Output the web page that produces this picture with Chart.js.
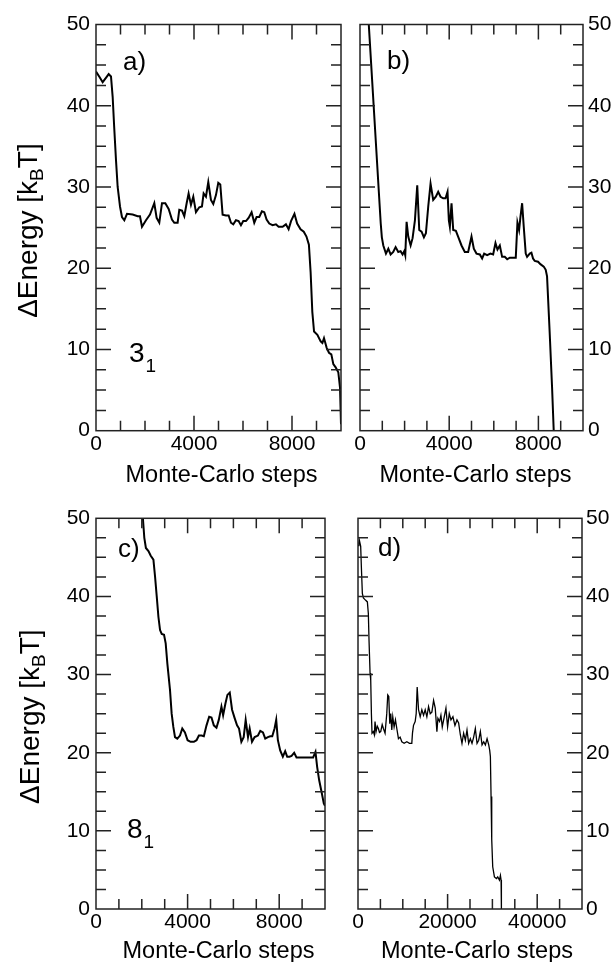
<!DOCTYPE html>
<html>
<head>
<meta charset="utf-8">
<title>ΔEnergy vs Monte-Carlo steps</title>
<script src="https://cdn.jsdelivr.net/npm/chart.js@4.4.1/dist/chart.umd.min.js"></script>
<style>
    html, body { margin: 0; padding: 0; background: #fff; }
    body { width: 614px; height: 962px; position: relative; overflow: hidden; }
    .panel { position: absolute; }
    #panelA { left: 0; top: 0; width: 350px; height: 495px; }
    #panelB { left: 350px; top: 0; width: 264px; height: 495px; }
    #panelC { left: 0; top: 495px; width: 350px; height: 467px; }
    #panelD { left: 350px; top: 495px; width: 264px; height: 467px; }
</style>
</head>
<body>
<div class="panel" id="panelA"><canvas id="chartA"></canvas></div>
<div class="panel" id="panelB"><canvas id="chartB"></canvas></div>
<div class="panel" id="panelC"><canvas id="chartC"></canvas></div>
<div class="panel" id="panelD"><canvas id="chartD"></canvas></div>
<script>
// tick labels
const stepTicksShort = [0, 4000, 8000];
const stepTicksLong = [0, 20000, 40000];
const energyTicks = [0, 10, 20, 30, 40, 50];

// a) 3_1 knot
const stepsA = [0, 150, 272, 420, 517, 612, 680, 740, 816, 884, 980, 1060, 1156, 1265, 1496, 1700, 1795, 1877,
    2040, 2203, 2380, 2475, 2584, 2693, 2829, 2965, 3100, 3196, 3332, 3400, 3509, 3604, 3700, 3780, 3876, 3971,
    4080, 4216, 4325, 4393, 4488, 4583, 4692, 4787, 4896, 4991, 5073, 5168, 5304, 5413, 5508, 5603, 5712, 5821,
    5916, 6011, 6120, 6229, 6351, 6460, 6555, 6664, 6773, 6868, 6963, 7072, 7208, 7344, 7453, 7616, 7752, 7861,
    7960, 8100, 8210, 8350, 8480, 8590, 8690, 8760, 8830, 8900, 9036, 9170, 9240, 9306, 9415, 9510, 9605, 9687,
    9782, 9890, 9960, 10000];
const energyA = [44.2, 43.5, 42.9, 43.5, 43.9, 43.6, 41.1, 37.5, 33.3, 30, 27.6, 26.3, 25.9, 26.7, 26.6, 26.4, 26.4, 25.1,
    25.9, 26.6, 28, 26.2, 25.6, 28, 28, 27.3, 26, 25.6, 25.6, 27.2, 27.1, 26.4, 28, 29.2, 27.8, 28.8,
    26.9, 27.5, 27.6, 29.2, 28.8, 30.6, 28.4, 27.9, 29, 30.5, 30.3, 26.6, 26.5, 26.5, 25.6, 25.4, 25.9, 25.8,
    25.3, 25.8, 25.8, 26.2, 26.9, 25.6, 26.3, 26.3, 27, 26.9, 26, 25.5, 25.3, 25.4, 25.1, 25.1, 25.4, 24.8,
    25.8, 26.7, 25.5, 24.8, 24.5, 23.9, 22.9, 19.5, 14.6, 12.2, 11.8, 11, 10.8, 11.4, 10.2, 9.6, 9.4, 8.2,
    7.8, 7.2, 5.3, 0.8];

// b)
const stepsB = [0, 930, 980, 1045, 1164, 1270, 1373, 1490, 1597, 1716, 1820, 1910, 1985, 2030, 2090, 2164, 2270,
    2358, 2463, 2567, 2657, 2761, 2866, 2955, 3060, 3164, 3283, 3400, 3507, 3612, 3731, 3836, 3925, 3985, 4030,
    4104, 4180, 4300, 4400, 4552, 4700, 4850, 5000, 5104, 5224, 5373, 5477, 5567, 5700, 5850, 5970, 6075, 6164,
    6270, 6373, 6492, 6600, 6716, 6866, 6985, 7060, 7134, 7194, 7270, 7343, 7432, 7493, 7612, 7687, 7760, 7836,
    7985, 8090, 8240, 8328, 8388, 8507, 8612, 8687];
const energyB = [68, 25.5, 23.8, 22.8, 21.8, 22.4, 21.7, 22, 22.6, 22, 22.1, 21.7, 22.1, 21.6, 25.7, 23.9, 22.8,
    23.7, 25.9, 30.2, 24.7, 24.5, 23.8, 24.3, 27.6, 30.4, 28.4, 28.8, 29.4, 28.8, 28.6, 28.6, 29.4, 25.9, 25.1,
    28, 24.7, 24.6, 23.9, 22.8, 22, 22, 23.9, 22.4, 21.8, 21.7, 21.2, 21.8, 21.6, 21.8, 21.7, 23.1, 22.3,
    22.8, 21.4, 21.4, 21.1, 21.3, 21.3, 21.3, 25.6, 24.7, 26.3, 28, 25.1, 21.8, 21.4, 21.8, 21.9, 21.2, 20.9,
    20.8, 20.5, 20.2, 19.8, 19, 12, 5.4, 0];

// c) 8_1 knot
const stepsC = [1950, 2048, 2110, 2179, 2290, 2390, 2507, 2580, 2652, 2725, 2797, 2870, 2971, 3043, 3116, 3232,
    3304, 3377, 3450, 3550, 3667, 3768, 3884, 4000, 4130, 4275, 4391, 4493, 4609, 4710, 4826, 4942, 5043, 5145,
    5261, 5362, 5478, 5551, 5652, 5739, 5841, 5942, 6058, 6159, 6246, 6348, 6449, 6536, 6638, 6710, 6812, 6928,
    7072, 7174, 7290, 7391, 7507, 7609, 7696, 7797, 7870, 7942, 8043, 8159, 8261, 8348, 8449, 8540, 8654, 8756,
    9046, 9264, 9482, 9584, 9657, 9744, 9848, 9948, 10000];
const energyC = [53, 50, 47.5, 46.2, 45.8, 45.2, 44.7, 42.5, 40, 37.4, 35.7, 35.2, 35.1, 34, 31.4, 28,
    25, 23.3, 22, 21.8, 22.2, 23.1, 22.6, 21.6, 21.4, 21.4, 21.6, 22.2, 22.2, 22.1, 23.5, 24.6, 24.5, 23.5,
    23.2, 24.2, 25.9, 24.8, 26.3, 27.4, 27.7, 25.5, 24.4, 23.5, 23.1, 21.4, 22, 24.2, 22, 23.1, 21.4, 22,
    22.2, 22.8, 22.6, 21.8, 22, 22.1, 22.1, 23.1, 24.2, 21.6, 20.3, 19.5, 20.2, 19.5, 19.5, 19.6, 20, 19.4,
    19.4, 19.4, 19.4, 20.1, 18.2, 16.5, 15, 13.5, 13.2];

// d)
const stepsD = [0, 200, 300, 600, 750, 970, 1200, 1720, 2090, 2310, 2460, 2690, 2840, 2990, 3130, 3430, 3650,
    3800, 4030, 4300, 4550, 4800, 5070, 5400, 5670, 6040, 6420, 6640, 6870, 7090, 7310, 7540, 7760, 8060, 8360,
    8660, 9030, 9400, 9780, 10300, 10900, 11490, 12010, 12160, 12390, 12760, 12990, 13210, 13510, 13880, 14250,
    14630, 15000, 15370, 15750, 16120, 16490, 16870, 17240, 17610, 17840, 18210, 18510, 18810, 19250, 19630,
    20000, 20370, 20750, 21190, 21640, 22090, 22460, 22840, 23210, 23580, 23960, 24330, 24700, 25070, 25450,
    25820, 26190, 26570, 26940, 27310, 27690, 28060, 28430, 28810, 29180, 29400, 29550, 29700, 29850, 30070,
    30450, 30900, 31190, 31570, 31790, 31940, 32010];
const energyD = [46.5, 46.8, 47.2, 46.4, 43.8, 40.4, 39.8, 39.5, 39.3, 37.8, 34.4, 30.2, 29.3, 25, 22.5, 22.7, 22.3,
    24, 22.7, 23.4, 23.1, 22.6, 22.7, 23.6, 23.1, 22.5, 25, 27.4, 27.2, 23.7, 25, 22.9, 24.6, 23.3, 24.2,
    23.1, 21.8, 22, 21.4, 21.2, 21.4, 21.2, 21.2, 22.5, 23.5, 24, 25, 28.4, 25.5, 24.6, 25.5,
    24.8, 25.5, 24.6, 25.9, 25, 25.2, 26.7, 25.7, 22.7, 24.4, 24, 24.8, 23.3, 24.6, 25.7,
    23.3, 25, 24.2, 24.6, 23.5, 24.2, 23.8, 22.3, 21.2, 22.5, 21.6, 22.9, 21.2, 21.8, 21.2,
    22, 23.1, 21.2, 21.6, 22.7, 21, 21.4, 21, 21.8, 21, 20.3, 19.5, 14.4, 8.9, 5.4,
    4.1, 3.9, 4.1, 3.7, 4.3, 3.7, 0];

Chart.defaults.font.family = '"Liberation Sans", Arial, sans-serif';
Chart.defaults.color = '#000';

const fontMain = '"Liberation Sans", Arial, sans-serif';

// box, inward ticks and the panel texts
const panelFrame = {
    id: 'panelFrame',
    afterDraw(chart, args, opts) {
        const ctx = chart.ctx;
        const { left, right, top, bottom } = chart.chartArea;
        const xs = chart.scales.x;
        const ys = chart.scales.y;

        ctx.save();
        ctx.strokeStyle = '#222';
        ctx.lineWidth = 1.5;
        ctx.strokeRect(left, top, right - left, bottom - top);

        ctx.beginPath();
        for (let v = opts.xMinor; v < xs.max; v += opts.xMinor) {
            const px = xs.getPixelForValue(v);
            const len = v % opts.xMajor === 0 ? 15 : 10;
            ctx.moveTo(px, bottom); ctx.lineTo(px, bottom - len);
            ctx.moveTo(px, top); ctx.lineTo(px, top + len);
        }
        for (let v = 2.5; v < ys.max; v += 2.5) {
            const py = ys.getPixelForValue(v);
            const len = v % 10 === 0 ? 15 : 10;
            ctx.moveTo(left, py); ctx.lineTo(left + len, py);
            ctx.moveTo(right, py); ctx.lineTo(right - len, py);
        }
        ctx.stroke();

        ctx.fillStyle = '#000';
        ctx.textBaseline = 'alphabetic';
        ctx.textAlign = 'left';

        ctx.font = '26px ' + fontMain;
        ctx.fillText(opts.letter, left + opts.letterAt[0], top + opts.letterAt[1]);

        if (opts.knot) {
            const kx = left + opts.knotAt[0];
            const ky = top + opts.knotAt[1];
            ctx.font = '28px ' + fontMain;
            ctx.fillText(opts.knot[0], kx, ky);
            const w = ctx.measureText(opts.knot[0]).width;
            ctx.font = '19px ' + fontMain;
            ctx.fillText(opts.knot[1], kx + w + 1, ky + 10);
        }

        ctx.textAlign = 'center';
        ctx.font = '23.5px ' + fontMain;
        ctx.fillText('Monte-Carlo steps', (left + right) / 2 + opts.xTitleShift, bottom + opts.xTitleY);

        if (opts.yTitle) {
            const parts = [['ΔEnergy [k', 28, 0], ['B', 19, 6], ['T]', 28, 0]];
            ctx.translate(left + opts.yTitleX, (top + bottom) / 2 + 3);
            ctx.rotate(-Math.PI / 2);
            ctx.textAlign = 'left';
            let total = 0;
            parts.forEach(p => {
                ctx.font = p[1] + 'px ' + fontMain;
                total += ctx.measureText(p[0]).width;
            });
            let cx = -total / 2;
            parts.forEach(p => {
                ctx.font = p[1] + 'px ' + fontMain;
                ctx.fillText(p[0], cx, p[2]);
                cx += ctx.measureText(p[0]).width;
            });
        }
        ctx.restore();
    }
};

function makePanel(id, steps, energy, cfg) {
    const points = steps.map((s, i) => ({ x: s, y: energy[i] }));
    return new Chart(document.getElementById(id), {
        type: 'line',
        data: {
            datasets: [{
                data: points,
                borderColor: '#000',
                borderWidth: cfg.lineWidth,
                pointRadius: 0,
                tension: 0,
                fill: false
            }]
        },
        options: {
            responsive: true,
            maintainAspectRatio: false,
            animation: false,
            layout: { padding: cfg.padding },
            plugins: {
                legend: { display: false },
                tooltip: { enabled: false },
                panelFrame: cfg.frame
            },
            scales: {
                x: {
                    type: 'linear',
                    min: 0,
                    max: cfg.xMax,
                    grid: { display: false, drawTicks: false },
                    border: { display: false },
                    afterBuildTicks: scale => { scale.ticks = cfg.xTicks.map(v => ({ value: v })); },
                    afterFit: scale => { scale.height = 30; },
                    ticks: { padding: 1, font: { size: 21 }, maxRotation: 0, callback: v => String(v) }
                },
                y: {
                    position: cfg.yPos,
                    min: 0,
                    max: 50,
                    grid: { display: false, drawTicks: false },
                    border: { display: false },
                    afterBuildTicks: scale => { scale.ticks = energyTicks.map(v => ({ value: v })); },
                    afterFit: scale => { scale.width = cfg.yWidth; },
                    ticks: { padding: cfg.yPad, font: { size: 21 }, callback: v => String(v) }
                }
            }
        },
        plugins: [panelFrame]
    });
}

document.addEventListener("DOMContentLoaded", () => {

    makePanel('chartA', stepsA, energyA, {
        lineWidth: 2, xMax: 10000, xTicks: stepTicksShort, yPos: 'left', yWidth: 96, yPad: 6,
        padding: { left: 0, top: 24.5, right: 9, bottom: 34.3 },
        frame: { xMinor: 1000, xMajor: 4000, letter: 'a)', letterAt: [27, 45.5], knot: ['3', '1'], knotAt: [33, 337.5],
            xTitleShift: 3, xTitleY: 51.5, yTitle: true, yTitleX: -59 }
    });

    makePanel('chartB', stepsB, energyB, {
        lineWidth: 2, xMax: 10000, xTicks: stepTicksShort, yPos: 'right', yWidth: 31, yPad: 5,
        padding: { left: 10, top: 24.5, right: 0, bottom: 34.3 },
        frame: { xMinor: 1000, xMajor: 4000, letter: 'b)', letterAt: [27, 44.5], knot: null,
            xTitleShift: 4, xTitleY: 51.5, yTitle: false }
    });

    makePanel('chartC', stepsC, energyC, {
        lineWidth: 2, xMax: 10000, xTicks: stepTicksShort, yPos: 'left', yWidth: 96, yPad: 6,
        padding: { left: 0, top: 23.3, right: 25, bottom: 23 },
        frame: { xMinor: 1000, xMajor: 4000, letter: 'c)', letterAt: [22, 38.7], knot: ['8', '1'], knotAt: [31, 319.7],
            xTitleShift: 8, xTitleY: 49, yTitle: true, yTitleX: -57 }
    });

    makePanel('chartD', stepsD, energyD, {
        lineWidth: 1.3, xMax: 50000, xTicks: stepTicksLong, yPos: 'right', yWidth: 32, yPad: 4,
        padding: { left: 8, top: 23.3, right: 0, bottom: 23 },
        frame: { xMinor: 5000, xMajor: 20000, letter: 'd)', letterAt: [20, 37.7], knot: null,
            xTitleShift: 7, xTitleY: 49, yTitle: false }
    });

});
</script>
</body>
</html>
